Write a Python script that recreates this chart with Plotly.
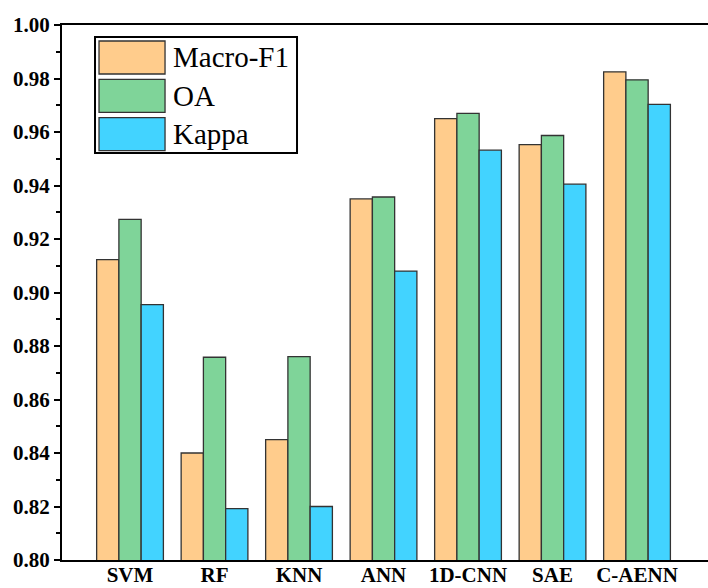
import plotly.graph_objects as go

# Classifier comparison data
models = ["SVM", "RF", "KNN", "ANN", "1D-CNN", "SAE", "C-AENN"]
series_names = ["Macro-F1", "OA", "Kappa"]
macro_f1 = [0.9123, 0.8400, 0.8450, 0.9350, 0.9650, 0.9553, 0.9825]
oa = [0.9273, 0.8758, 0.8760, 0.9357, 0.9670, 0.9587, 0.9795]
kappa = [0.8955, 0.8192, 0.8200, 0.9080, 0.9532, 0.9405, 0.9703]
y_ticks = [0.80, 0.82, 0.84, 0.86, 0.88, 0.90, 0.92, 0.94, 0.96, 0.98, 1.00]

colors = ["#FFCC8C", "#7FD499", "#42D3FF"]
series_values = [macro_f1, oa, kappa]

fig = go.Figure()
for name, vals, col in zip(series_names, series_values, colors):
    fig.add_trace(go.Bar(
        x=models, y=vals, name=name,
        marker=dict(color=col, line=dict(color="#333333", width=1.3)),
        showlegend=False,
    ))

serif = "Liberation Serif"

# Legend drawn as a framed box with large swatches
lx0, lx1 = 0.0511, 0.3638   # paper x of legend frame
ly_top, ly_bot = 0.9776, 0.7607
fig.add_shape(type="rect", xref="paper", yref="paper",
              x0=lx0, x1=lx1, y0=ly_bot, y1=ly_top,
              line=dict(color="black", width=2), fillcolor="white")
row_h = (ly_top - ly_bot) / 3
for i, (name, col) in enumerate(zip(series_names, colors)):
    top = ly_top - 0.0075 - i * (row_h - 0.0007)
    fig.add_shape(type="rect", xref="paper", yref="paper",
                  x0=lx0 + 0.0062, x1=lx0 + 0.1084,
                  y0=top - 0.0617, y1=top,
                  line=dict(color="#333333", width=1.3), fillcolor=col)
    fig.add_annotation(xref="paper", yref="paper",
                       x=lx0 + 0.1176, y=top - 0.0308,
                       xanchor="left", yanchor="middle",
                       text=name, showarrow=False,
                       font=dict(family=serif, size=29, color="black"))

fig.update_layout(
    width=708, height=588,
    margin=dict(l=62, r=0, t=25, b=28),
    paper_bgcolor="white", plot_bgcolor="white",
    barmode="group", bargap=0.21, bargroupgap=0,
    xaxis=dict(
        range=[-0.805, 6.84], automargin=False,
        showline=True, linecolor="black", linewidth=2, mirror=True,
        ticks="", showgrid=False,
        tickfont=dict(family=serif, size=21, color="black", weight="bold"),
        ticklabelstandoff=-5,
    ),
    yaxis=dict(
        range=[0.80, 1.00], automargin=False,
        tickvals=y_ticks, ticktext=[f"{v:.2f}" for v in y_ticks],
        showline=True, linecolor="black", linewidth=2, mirror=False,
        ticks="outside", ticklen=6, tickwidth=2, tickcolor="black",
        minor=dict(dtick=0.01, ticks="outside", ticklen=4, tickwidth=2, tickcolor="black"),
        showgrid=False, zeroline=False,
        tickfont=dict(family=serif, size=21, color="black", weight="bold"),
    ),
)

fig.write_html("out.html")
